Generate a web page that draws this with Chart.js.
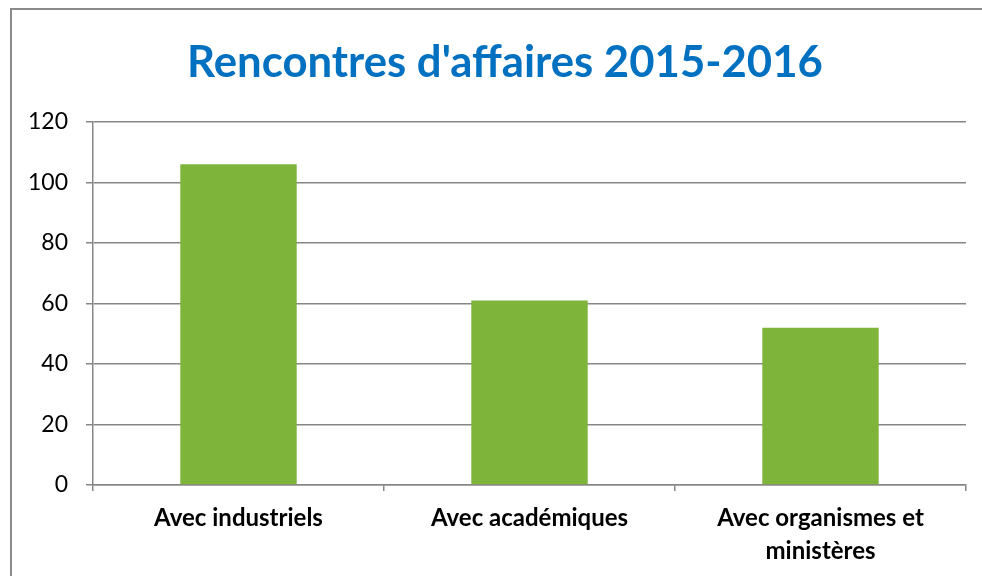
<!DOCTYPE html>
<html>
<head>
<meta charset="utf-8">
<script src="https://cdn.jsdelivr.net/npm/chart.js@4"></script>
<style>
html,body{margin:0;padding:0;background:#fff;}
#wrap{position:relative;width:982px;height:576px;}
</style>
</head>
<body>
<div id="wrap"><canvas id="c" width="982" height="576"></canvas></div>
<script>
const chartTitle = "Rencontres d'affaires 2015-2016";
const categories = [["Avec industriels"], ["Avec académiques"], ["Avec organismes et", "ministères"]];
const values = [106, 61, 52];
const yMin = 0, yMax = 120, yStep = 20;

const FONT = "Lato, 'Open Sans', sans-serif";

const framePlugin = {
  id: 'frame',
  beforeDraw(chart) {
    const ctx = chart.ctx;
    ctx.save();
    ctx.strokeStyle = '#8a8a8a';
    ctx.lineWidth = 2;
    ctx.strokeRect(11, 9, 1000, 600);
    ctx.restore();
  },
  afterDraw(chart) {
    const ctx = chart.ctx;
    ctx.save();
    let size = 40;
    ctx.font = `bold ${size}px ${FONT}`;
    const w = ctx.measureText(chartTitle).width;
    size = size * 636 / w;
    ctx.font = `bold ${size}px ${FONT}`;
    ctx.fillStyle = '#0070C0';
    ctx.textAlign = 'center';
    ctx.textBaseline = 'alphabetic';
    ctx.fillText(chartTitle, 505, 77);
    ctx.restore();
  }
};

new Chart(document.getElementById('c'), {
  type: 'bar',
  data: {
    labels: categories,
    datasets: [{
      data: values,
      backgroundColor: '#7FB43B',
      borderWidth: 0,
      categoryPercentage: 1,
      barPercentage: 0.4
    }]
  },
  options: {
    responsive: false,
    animation: false,
    events: [],
    layout: { padding: { left: 0, right: 16, top: 122, bottom: 0 } },
    plugins: { legend: { display: false }, title: { display: false }, tooltip: { enabled: false } },
    scales: {
      x: {
        offset: true,
        grid: { offset: true, drawOnChartArea: false, drawTicks: true, tickLength: 6, color: '#878787', lineWidth: 1.5 },
        border: { display: true, color: '#878787', width: 1.5 },
        ticks: { color: '#000', font: { family: FONT, size: 24, weight: 'bold', lineHeight: 1.38 }, padding: 11, maxRotation: 0, autoSkip: false },
        afterFit(scale) { scale.height = 91; }
      },
      y: {
        min: yMin, max: yMax,
        grid: { color: '#878787', lineWidth: 1.5, drawTicks: true, tickLength: 7 },
        border: { display: true, color: '#878787', width: 1.5 },
        ticks: { stepSize: yStep, color: '#000', font: { family: FONT, size: 23 }, padding: 18 },
        afterFit(scale) { scale.width = 93; }
      }
    }
  },
  plugins: [framePlugin]
});
</script>
</body>
</html>
